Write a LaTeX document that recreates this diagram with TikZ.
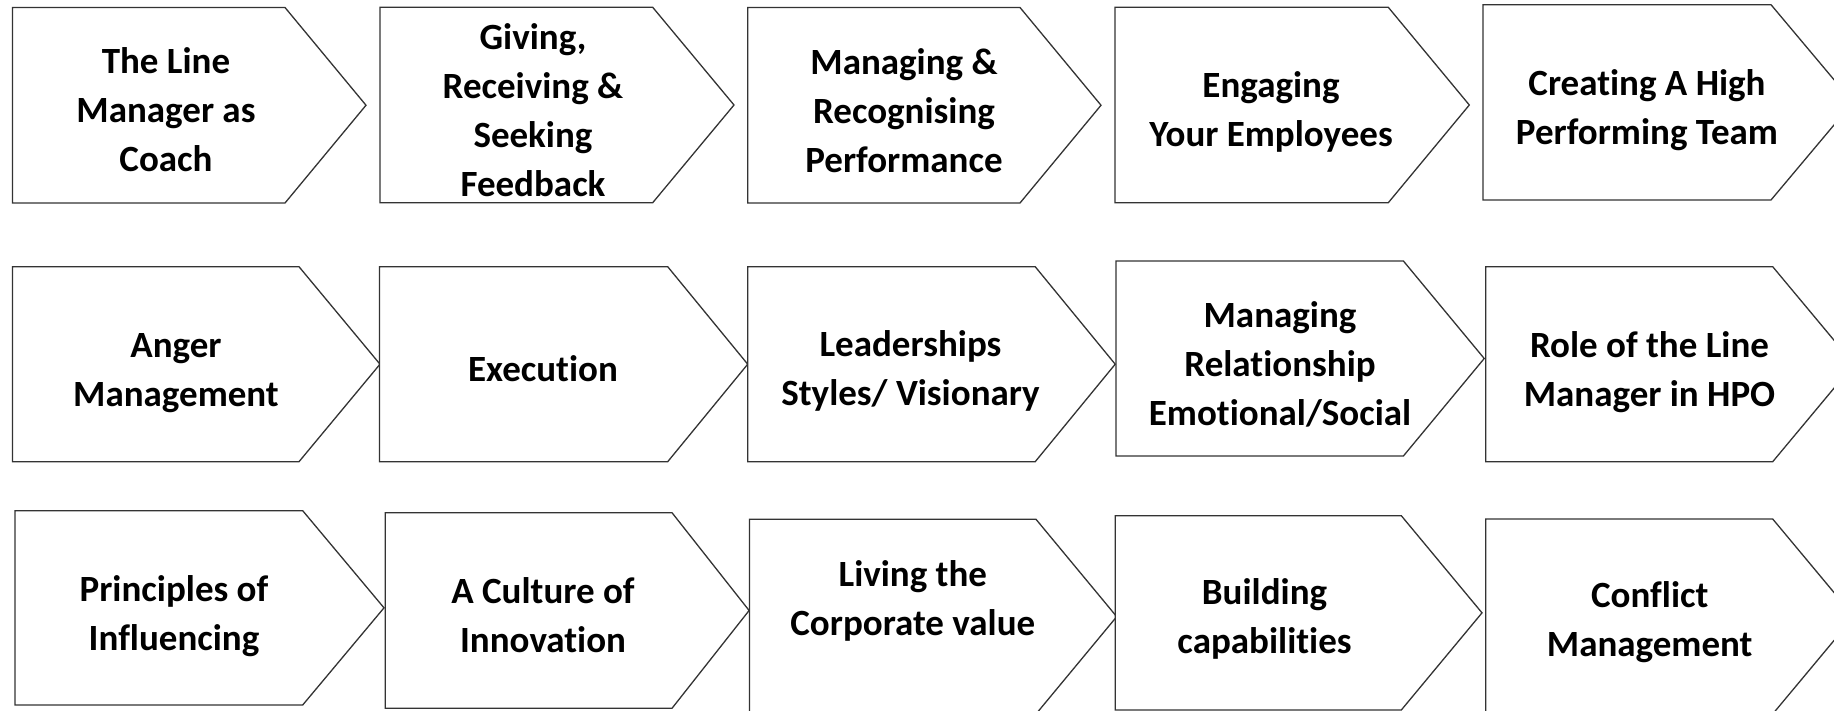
\documentclass[tikz,border=0pt]{standalone}
\usepackage{fontspec}
\setmainfont{Carlito}[Ligatures=NoCommon]
\tikzset{
  chev/.style={draw=black!80, line width=1.3pt, fill=white, line join=miter},
  lbl/.style={font=\bfseries\fontsize{37}{49}\selectfont, align=center, anchor=base, inner sep=0pt},
}
% name, left, top, bottom, shoulder, tip, text x, last baseline, text
\newcommand\chevron[9]{%
  \draw[chev] (#2,#3) -- (#5,#3) -- (#6,{(#3+#4)/2}) -- (#5,#4) -- (#2,#4) -- cycle;
  \node[lbl] (#1) at (#7,#8) {#9};
}
\begin{document}
\begin{tikzpicture}[x=1pt,y=-1pt]
\useasboundingbox (0,0) rectangle (1834,711);
\clip (0,0) rectangle (1834,711);
% Row 1
\chevron{a1}{12.5}{7.5}{203}{285}{366}{166}{172}{The Line\\Manager as\\Coach}
\chevron{a2}{380}{7.3}{202.7}{652.7}{734}{533}{197}{Giving,\\Receiving \&\\Seeking\\Feedback}
\chevron{a3}{747.7}{7.5}{203}{1020}{1101}{904}{173}{Managing \&\\Recognising\\Performance}
\chevron{a4}{1115}{7.3}{202.7}{1388.3}{1469.3}{1271}{147}{Engaging\\Your Employees}
\chevron{a5}{1483}{4.7}{200}{1771}{1853}{1647}{145}{Creating A High\\Performing Team}
% Row 2
\chevron{b1}{12.5}{266.7}{461.7}{299}{380}{176}{406.7}{Anger\\Management}
\chevron{b2}{379.5}{266.7}{461.7}{667.7}{747.7}{543}{381.7}{Execution}
\chevron{b3}{747.7}{266.7}{461.7}{1035.2}{1115.2}{910.5}{405.7}{Leaderships\\Styles/ Visionary}
\chevron{b4}{1116}{261}{456}{1403.4}{1484.2}{1280}{425}{Managing\\Relationship\\Emotional/Social}
\chevron{b5}{1485.7}{266.7}{461.7}{1772.7}{1854}{1649.5}{406.7}{Role of the Line\\Manager in HPO}
% Row 3
\chevron{c1}{15}{510.7}{705}{302.7}{384}{174}{650}{Principles of\\Influencing}
\chevron{c2}{385.2}{512.7}{708.3}{672}{749.1}{543}{652}{A Culture of\\Innovation}
\chevron{c3}{749.5}{519.3}{714}{1036}{1116.7}{912.8}{635}{Living the\\Corporate value}
\chevron{c4}{1115.2}{515.7}{710}{1401.3}{1482}{1264.5}{653}{Building\\capabilities}
\chevron{c5}{1485.7}{519}{714}{1772.7}{1854}{1649.7}{656.7}{Conflict\\Management}
\end{tikzpicture}
\end{document}
